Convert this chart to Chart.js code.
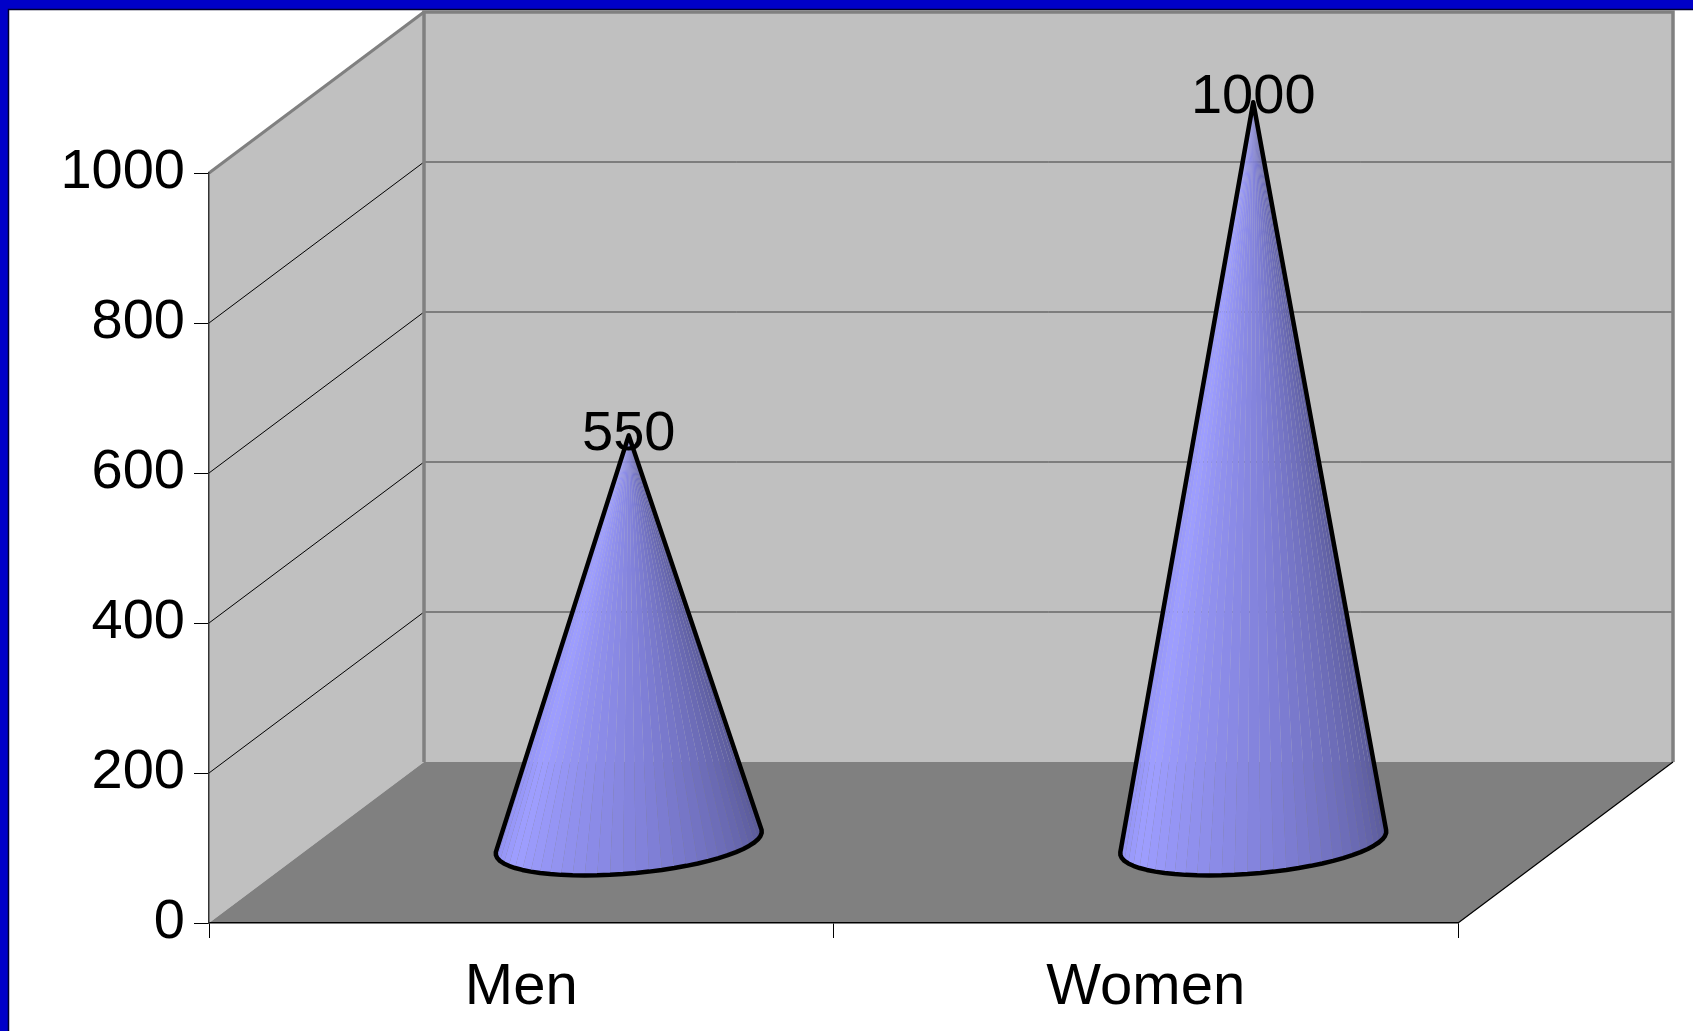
<!DOCTYPE html>
<html>
<head>
<meta charset="utf-8">
<script src="https://cdn.jsdelivr.net/npm/chart.js@4.4.1/dist/chart.umd.min.js"></script>
<style>
  html, body { margin: 0; padding: 0; background: #fff; overflow: hidden; }
  #wrap { position: relative; width: 1693px; height: 1031px; }
</style>
</head>
<body>
<div id="wrap"><canvas id="chart"></canvas></div>
<script>
const categories = ["Men", "Women"];
const values = [550, 1000];
const yTicks = [0, 200, 400, 600, 800, 1000];

const FONT = "'Liberation Sans', Arial, sans-serif";
const DEPTH = { x: 215, y: -161 }; // front plane -> back wall offset

const wallColor = "#c0c0c0";
const floorColor = "#808080";

// colour across the visible side of a cone, left to right
const coneShades = [
  [0.0, [140, 140, 238]],
  [0.18, [158, 158, 255]],
  [0.55, [128, 128, 216]],
  [1.0, [84, 84, 142]],
];

const shadeAt = (u) => {
  for (let i = 1; i < coneShades.length; i++) {
    const [u1, c1] = coneShades[i];
    const [u0, c0] = coneShades[i - 1];
    if (u <= u1) {
      const k = (u - u0) / (u1 - u0);
      const c = c0.map((v, j) => Math.round(v + (c1[j] - v) * k));
      return `rgb(${c[0]},${c[1]},${c[2]})`;
    }
  }
  const c = coneShades[coneShades.length - 1][1];
  return `rgb(${c[0]},${c[1]},${c[2]})`;
};

const poly = (ctx, pts, fill) => {
  ctx.beginPath();
  pts.forEach(([px, py], i) => (i ? ctx.lineTo(px, py) : ctx.moveTo(px, py)));
  ctx.closePath();
  ctx.fillStyle = fill;
  ctx.fill();
};

const line = (ctx, x1, y1, x2, y2, color, width) => {
  ctx.beginPath();
  ctx.moveTo(x1, y1);
  ctx.lineTo(x2, y2);
  ctx.strokeStyle = color;
  ctx.lineWidth = width;
  ctx.stroke();
};

// walls, floor, gridlines and the slide frame
const frame3d = {
  id: "frame3d",
  beforeDraw(chart) {
    const { ctx, chartArea: a, scales: { y } } = chart;
    const W = chart.width, H = chart.height;
    ctx.save();
    ctx.fillStyle = "#fff";
    ctx.fillRect(0, 0, W, H);

    ctx.fillStyle = "#0000c8";
    ctx.fillRect(0, 0, W, 9);
    ctx.fillRect(0, 0, 8, H);
    ctx.beginPath();
    ctx.moveTo(8.5, H);
    ctx.lineTo(8.5, 9.5);
    ctx.lineTo(W, 9.5);
    ctx.strokeStyle = "#00002a";
    ctx.lineWidth = 1.5;
    ctx.stroke();

    const bl = a.left + DEPTH.x, br = a.right + DEPTH.x;
    const bt = a.top + DEPTH.y, bb = a.bottom + DEPTH.y;

    poly(ctx, [[a.left, a.top], [bl, bt], [bl, bb], [a.left, a.bottom]], wallColor);
    poly(ctx, [[bl, bt], [br, bt], [br, bb], [bl, bb]], wallColor);
    poly(ctx, [[a.left, a.bottom], [bl, bb], [br, bb], [a.right, a.bottom]], floorColor);

    yTicks.forEach((v) => {
      if (v <= y.min || v >= y.max) return;
      const py = y.getPixelForValue(v);
      line(ctx, a.left, py, bl, py + DEPTH.y, "#000", 1);
      line(ctx, bl, py + DEPTH.y, br, py + DEPTH.y, "#3a3a3a", 1);
    });

    line(ctx, a.left, a.top, bl, bt, "#808080", 3);
    ctx.beginPath();
    ctx.moveTo(bl, bb);
    ctx.lineTo(bl, bt);
    ctx.lineTo(br, bt);
    ctx.lineTo(br, bb);
    ctx.strokeStyle = "#808080";
    ctx.lineWidth = 3.5;
    ctx.stroke();
    line(ctx, a.right, a.bottom, br, bb, "#000", 1.2);
    ctx.restore();
  },
};

// cones standing halfway into the floor, with value labels
const cones = {
  id: "cones",
  afterDatasetsDraw(chart) {
    const { ctx, scales: { x, y } } = chart;
    const catW = x.getPixelForValue(1) - x.getPixelForValue(0);
    const depthLen = Math.hypot(DEPTH.x, DEPTH.y);
    const ux = DEPTH.x / depthLen, uy = DEPTH.y / depthLen;
    const y0 = y.getPixelForValue(0);
    const ra = catW * 0.201, rb = depthLen * 0.205;
    const heightScale = 0.987; // cones sit a little behind the front plane
    const N = 64;

    ctx.save();
    values.forEach((v, i) => {
      const cx = x.getPixelForValue(i) + DEPTH.x * 0.5;
      const cy = y0 + DEPTH.y * 0.5;
      const tipX = cx;
      const tipY = cy - (y0 - y.getPixelForValue(v)) * heightScale;

      const pts = [];
      for (let k = 0; k < N; k++) {
        const t = (k / N) * Math.PI * 2;
        pts.push({
          x: cx + ra * Math.cos(t) + rb * ux * Math.sin(t),
          y: cy + rb * uy * Math.sin(t),
        });
      }
      // silhouette: extreme directions seen from the tip
      let L = 0, R = 0, minA = Infinity, maxA = -Infinity;
      pts.forEach((p, k) => {
        const ang = Math.atan2(p.x - tipX, p.y - tipY);
        if (ang < minA) { minA = ang; L = k; }
        if (ang > maxA) { maxA = ang; R = k; }
      });
      const arc = [];
      for (let k = L; ; k = (k + 1) % N) {
        arc.push(pts[k]);
        if (k === R) break;
      }

      // flat shaded facets
      for (let k = 0; k < arc.length - 1; k++) {
        const u = (k + 0.5) / (arc.length - 1);
        ctx.beginPath();
        ctx.moveTo(tipX, tipY);
        ctx.lineTo(arc[k].x, arc[k].y);
        ctx.lineTo(arc[k + 1].x, arc[k + 1].y);
        ctx.closePath();
        ctx.fillStyle = shadeAt(u);
        ctx.fill();
      }

      ctx.beginPath();
      ctx.moveTo(tipX, tipY);
      arc.forEach((p) => ctx.lineTo(p.x, p.y));
      ctx.closePath();
      ctx.strokeStyle = "#000";
      ctx.lineWidth = 4.5;
      ctx.lineJoin = "round";
      ctx.stroke();

      ctx.fillStyle = "#000";
      ctx.font = `56px ${FONT}`;
      ctx.textAlign = "center";
      ctx.textBaseline = "middle";
      ctx.fillText(String(v), tipX, y.getPixelForValue(v) + DEPTH.y * 0.5 + 5);
    });
    ctx.restore();
  },
};

new Chart(document.getElementById("chart"), {
  type: "bar",
  plugins: [frame3d, cones],
  data: {
    labels: categories,
    datasets: [{ data: values, backgroundColor: "rgba(0,0,0,0)", borderWidth: 0 }],
  },
  options: {
    responsive: true,
    maintainAspectRatio: false,
    animation: false,
    layout: { padding: { top: 173, right: 235, bottom: 0, left: 0 } },
    plugins: { legend: { display: false }, tooltip: { enabled: false } },
    scales: {
      x: {
        afterFit: (scale) => { scale.height = 108; },
        grid: { offset: true, drawOnChartArea: false, tickLength: 15, color: "#000", lineWidth: 1 },
        border: { display: true, color: "#000", width: 1.5 },
        ticks: { color: "#000", font: { family: FONT, size: 58 }, padding: 15, maxRotation: 0 },
      },
      y: {
        min: 0,
        max: 1000,
        afterFit: (scale) => { scale.width = 209; },
        afterBuildTicks: (scale) => { scale.ticks = yTicks.map((v) => ({ value: v })); },
        grid: { drawOnChartArea: false, tickLength: 15, color: "#000", lineWidth: 1 },
        border: { display: true, color: "#333", width: 1.5 },
        ticks: {
          color: "#000",
          font: { family: FONT, size: 56 },
          padding: 9,
          callback: (v) => String(v),
        },
      },
    },
  },
});
</script>
</body>
</html>
